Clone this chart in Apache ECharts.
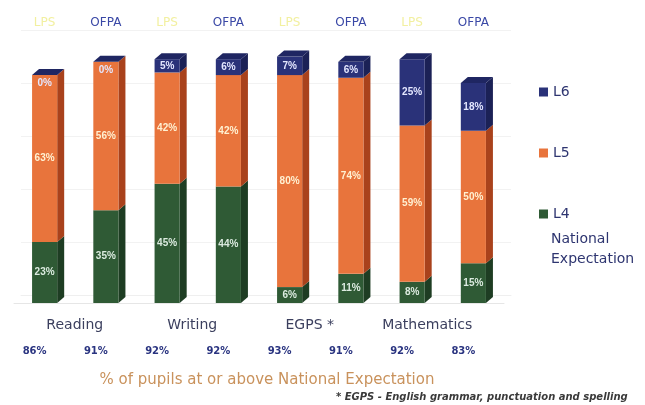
<!DOCTYPE html>
<html lang="en">
<head>
    <meta charset="UTF-8">
    <title>KS2 results</title>
    <style>
        html, body { margin: 0; padding: 0; background: #fff; }
        #main { width: 645px; height: 405px; }
    </style>
</head>
<body>
<div id="main"></div>

<script src="https://cdn.jsdelivr.net/npm/echarts@6.0.0/dist/echarts.min.js"></script>
<script>

    // bar groups (school vs OFPA) and the subjects they belong to
    const groups = ['LPS', 'OFPA', 'LPS', 'OFPA', 'LPS', 'OFPA', 'LPS', 'OFPA'];
    const subjects = ['Reading', 'Writing', 'EGPS *', 'Mathematics'];
    const totals = ['86%', '91%', '92%', '92%', '93%', '91%', '92%', '83%'];

    // % of pupils at each level
    const l4 = [23, 35, 45, 44, 6, 11, 8, 15];
    const l5 = [63, 56, 42, 42, 80, 74, 59, 50];
    const l6 = [0, 0, 5, 6, 7, 6, 25, 18];

    const legendNote = 'National\nExpectation';
    const axisTitle = '% of pupils at or above National Expectation';
    const footnote = '* EGPS - English grammar, punctuation and spelling';

    // colours: front, side, top, label
    const colors = {
        L4: ['#2f5a35', '#1e3d23', '#27492b', '#dcebe0'],
        L5: ['#e8743c', '#a9421c', '#c85a2a', '#fff1d2'],
        L6: ['#2a3279', '#1b2156', '#1f2662', '#e4e7ff']
    };
    const dx = 7, dy = -6;

    function makeData(vals, below) {
        return vals.map(function (v, i) {
            let base = 0;
            below.forEach(function (arr) { base += arr[i]; });
            return [i, v, base];
        });
    }

    function segRenderer(name, isTop) {
        const c = colors[name];
        return function (params, api) {
            const x = api.value(0), v = api.value(1), base = api.value(2);
            const p0 = api.coord([x, base]);
            const p1 = api.coord([x, base + v]);
            const w = api.size([1, 0])[0] * 0.41;
            const l = p0[0] - w / 2, r = p0[0] + w / 2;
            const y0 = p0[1], y1 = p1[1];
            const children = [];
            if (v > 0) {
                children.push({
                    type: 'polygon',
                    shape: {points: [[r, y0], [r + dx, y0 + dy], [r + dx, y1 + dy], [r, y1]]},
                    style: {fill: c[1]}
                });
                children.push({
                    type: 'rect',
                    shape: {x: l, y: y1, width: w, height: y0 - y1},
                    style: {fill: c[0]}
                });
            }
            if (isTop) {
                children.push({
                    type: 'polygon',
                    shape: {points: [[l, y1], [l + dx, y1 + dy], [r + dx, y1 + dy], [r, y1]]},
                    style: {fill: c[2]}
                });
            }
            const ly = v > 0 ? (y0 + y1) / 2 : y1 + 8;
            children.push({
                type: 'text',
                style: {
                    text: v + '%',
                    x: p0[0],
                    y: ly,
                    align: 'center',
                    verticalAlign: 'middle',
                    fill: c[3],
                    font: 'bold 10px "Liberation Sans", sans-serif'
                },
                z2: 10
            });
            return {type: 'group', children: children};
        };
    }

    function segSeries(name, vals, below, isTop) {
        return {
            name: name,
            type: 'custom',
            xAxisIndex: 0,
            yAxisIndex: 0,
            itemStyle: {color: colors[name][0]},
            renderItem: segRenderer(name, isTop),
            data: makeData(vals, below)
        };
    }

    const option = {
        animation: false,
        backgroundColor: '#ffffff',
        textStyle: {fontFamily: '"DejaVu Sans", sans-serif'},
        title: [
            {
                text: axisTitle,
                left: 262,
                top: 368,
                textAlign: 'center',
                textStyle: {fontSize: 15, fontWeight: 'normal', color: '#c9925c'}
            },
            {
                text: footnote,
                left: 331,
                top: 387,
                textStyle: {fontSize: 10, fontWeight: 'bold', fontStyle: 'italic', color: '#3a3a3a'}
            }
        ],
        legend: {
            data: ['L6', 'L5', 'L4'],
            orient: 'vertical',
            left: 534,
            top: 80,
            itemGap: 47,
            itemWidth: 9,
            itemHeight: 9,
            icon: 'rect',
            textStyle: {fontSize: 14, color: '#2e3570'}
        },
        graphic: [
            {
                type: 'text',
                left: 551,
                top: 229,
                style: {
                    text: legendNote,
                    fill: '#2e3570',
                    font: '14px "DejaVu Sans", sans-serif',
                    lineHeight: 20
                }
            }
        ],
        grid: [
            {left: 14, top: 38, width: 490, height: 265},
            {left: 21, top: 30, width: 490, height: 265},
            {left: 16, top: 38, width: 470, height: 265}
        ],
        xAxis: [
            {
                type: 'category',
                gridIndex: 0,
                position: 'top',
                data: groups,
                axisLine: {show: false},
                axisTick: {show: false},
                axisLabel: {
                    margin: 9,
                    fontSize: 12,
                    color: function (val) { return val === 'OFPA' ? '#3a48a6' : '#f2f0a0'; }
                }
            },
            {
                type: 'category',
                gridIndex: 0,
                position: 'bottom',
                data: totals,
                axisLine: {show: true, lineStyle: {color: '#e6e6e6'}},
                axisTick: {show: false},
                axisLabel: {
                    margin: 43,
                    fontSize: 10,
                    fontWeight: 'bold',
                    color: '#2a3480',
                    padding: [0, 20, 0, 0]
                }
            },
            {
                type: 'category',
                gridIndex: 1,
                data: groups,
                axisLine: {show: true, lineStyle: {color: '#efefef'}},
                axisTick: {show: false},
                axisLabel: {show: false}
            },
            {
                type: 'category',
                gridIndex: 2,
                data: subjects,
                axisLine: {show: false},
                axisTick: {show: false},
                axisLabel: {margin: 15, fontSize: 14, color: '#3b3f5e'}
            }
        ],
        yAxis: [
            {type: 'value', gridIndex: 0, min: 0, max: 100, show: false},
            {
                type: 'value',
                gridIndex: 1,
                min: 0,
                max: 100,
                interval: 20,
                axisLine: {show: false},
                axisTick: {show: false},
                axisLabel: {show: false},
                splitLine: {lineStyle: {color: '#f2f2f2'}}
            },
            {type: 'value', gridIndex: 2, show: false}
        ],
        series: [
            segSeries('L4', l4, [], false),
            segSeries('L5', l5, [l4], false),
            segSeries('L6', l6, [l4, l5], true)
        ]
    };

    const myChart = echarts.init(document.getElementById('main'));
    myChart.setOption(option);
</script>
</body>
</html>
